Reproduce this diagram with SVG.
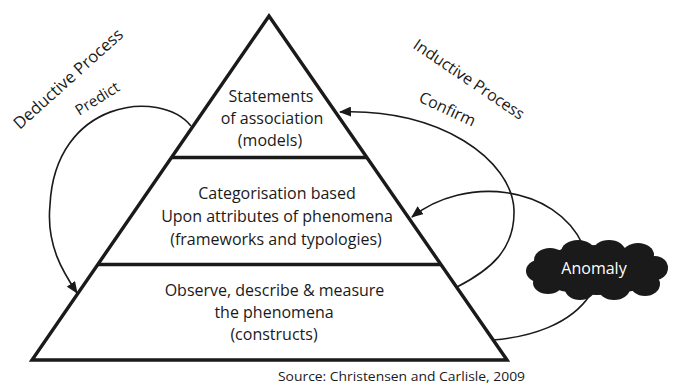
<svg xmlns="http://www.w3.org/2000/svg" width="677" height="385" viewBox="0 0 677 385">
<style>
.t{font-family:"Open Sans","Noto Sans","Liberation Sans",sans-serif;fill:#1a1a1a;}
.c{text-anchor:middle;font-size:16px;}
.edge{fill:none;stroke:#1a1a1a;stroke-width:1.6;}
.tri{fill:#fff;stroke:#1a1a1a;stroke-width:3.4;stroke-linejoin:miter;}
.bar{stroke:#1a1a1a;stroke-width:3.4;}
.cloud{fill:#1a1a1a;}
</style>
<defs>
<marker id="ah" viewBox="0 0 12 10" refX="11" refY="5" markerWidth="12" markerHeight="10" markerUnits="userSpaceOnUse" orient="auto">
<path d="M0,0 L12,5 L0,10 Z" fill="#1a1a1a"/>
</marker>
</defs>
<rect width="677" height="385" fill="#fff"/>

<g id="pyramid">
<polygon class="tri" points="269,16 507,360 32,360"/>
<line class="bar" x1="171" y1="157.5" x2="367" y2="157.5"/>
<line class="bar" x1="97" y1="264.5" x2="441" y2="264.5"/>
</g>

<g id="top-level">
<text class="t c" x="271" y="102">Statements</text>
<text class="t c" x="272" y="124">of association</text>
<text class="t c" x="270" y="146">(models)</text>
</g>

<g id="middle-level">
<text class="t c" x="277" y="199">Categorisation based</text>
<text class="t c" x="277" y="222">Upon attributes of phenomena</text>
<text class="t c" x="276" y="245">(frameworks and typologies)</text>
</g>

<g id="bottom-level">
<text class="t c" x="274.5" y="296">Observe, describe &amp; measure</text>
<text class="t c" x="274" y="318">the phenomena</text>
<text class="t c" x="274" y="340">(constructs)</text>
</g>

<g id="connectors">
<path class="edge" d="M191,126 C160,88 55,100 50,205 C46,245 63,272 77,293" marker-end="url(#ah)"/>
<path class="edge" d="M457,287 C490,270 515,250 514,210 C512,160 440,108 340,112" marker-end="url(#ah)"/>
<path class="edge" d="M583,245 C555,185 465,175 412,217" marker-end="url(#ah)"/>
<path class="edge" d="M493,340 C530,337 570,325 590,295"/>
</g>

<g id="anomaly">
<g class="cloud">
<ellipse cx="597" cy="270" rx="64" ry="25"/>
<ellipse cx="550" cy="260" rx="16" ry="12"/>
<ellipse cx="578" cy="252" rx="17" ry="12"/>
<ellipse cx="609" cy="251" rx="16" ry="11"/>
<ellipse cx="638" cy="255" rx="16" ry="12"/>
<ellipse cx="655" cy="268" rx="13" ry="12"/>
<ellipse cx="645" cy="284" rx="15" ry="12"/>
<ellipse cx="614" cy="288" rx="16" ry="12"/>
<ellipse cx="580" cy="289" rx="15" ry="11"/>
<ellipse cx="548" cy="283" rx="15" ry="11"/>
<ellipse cx="539" cy="271" rx="13" ry="11"/>
</g>
<text class="t c" x="594" y="274" style="fill:#fff">Anomaly</text>
</g>

<g id="labels">
<text class="t c" x="72" y="83" style="font-size:16.5px" transform="rotate(-42 72 83)">Deductive Process</text>
<text class="t c" x="100" y="103" style="font-size:15px" transform="rotate(-32 100 103)">Predict</text>
<text class="t c" x="466" y="84" transform="rotate(34 466 84)">Inductive Process</text>
<text class="t c" x="445" y="114" transform="rotate(25 445 114)">Confirm</text>
<text class="t" x="278" y="381" style="font-size:13.5px" textLength="247" lengthAdjust="spacingAndGlyphs">Source: Christensen and Carlisle, 2009</text>
</g>
</svg>
